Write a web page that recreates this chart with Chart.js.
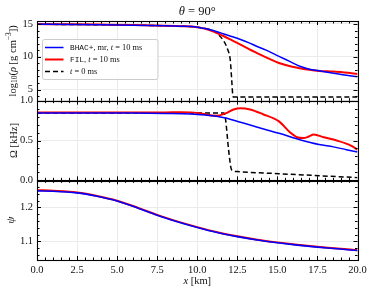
<!DOCTYPE html>
<html>
<head>
<meta charset="utf-8">
<script src="https://cdn.jsdelivr.net/npm/chart.js@4/dist/chart.umd.min.js"></script>
<style>
html,body{margin:0;padding:0;background:#fff;}
#wrap{width:374px;height:294px;position:relative;}
</style>
</head>
<body>
<div id="wrap"><canvas id="c" width="374" height="294"></canvas></div>
<script>
// ---------- data ----------
const xRhoBlue = [0, 2, 4, 6, 8, 9, 9.6, 10, 10.5, 11, 11.5, 12, 12.7, 13.2, 13.7, 14.3, 15.1, 15.8, 16.4, 17, 17.6, 18.5, 19.2, 20];
const rhoBlue  = [14.95, 14.92, 14.88, 14.82, 14.72, 14.65, 14.6, 14.5, 14.3, 14.0, 13.6, 13.2, 12.63, 12.15, 11.6, 11.0, 10.05, 9.25, 8.55, 8.1, 7.85, 7.47, 7.2, 6.95];
const xRhoRed  = [0, 2, 4, 6, 8, 9, 9.6, 10, 10.5, 11.1, 11.6, 12.1, 12.7, 13.2, 13.7, 14.4, 15.1, 15.8, 16.4, 17, 17.6, 18.5, 19.2, 20];
const rhoRed   = [14.98, 14.95, 14.9, 14.84, 14.74, 14.66, 14.61, 14.5, 14.28, 13.76, 13.2, 12.6, 11.86, 11.2, 10.6, 9.8, 9.05, 8.55, 8.25, 8.0, 7.83, 7.73, 7.58, 7.37];
const xRhoInit = [0, 2, 4, 6, 8, 9, 9.6, 10, 10.5, 11.0, 11.3, 11.65, 11.9, 12.06, 12.15, 12.21, 12.25, 14, 16, 18, 20];
const rhoInit  = [14.95, 14.92, 14.88, 14.82, 14.72, 14.65, 14.6, 14.5, 14.3, 13.95, 13.4, 12.4, 11.1, 9.5, 6.5, 4.3, 3.85, 3.85, 3.85, 3.85, 3.85];

const xOmBlue  = [0, 2, 4, 6, 8, 9.6, 10.5, 11.2, 11.7, 12.7, 13.7, 15.1, 16.4, 17.6, 18.5, 19.3, 20];
const omBlue   = [0.846, 0.845, 0.845, 0.844, 0.84, 0.833, 0.82, 0.805, 0.785, 0.73, 0.67, 0.59, 0.51, 0.45, 0.42, 0.385, 0.355];
const xOmRed   = [0, 2, 4, 6, 8, 9, 9.6, 10.3, 11.2, 11.75, 12.27, 12.7, 13.3, 14.1, 15.1, 15.8, 16.23, 16.64, 16.96, 17.27, 17.9, 18.7, 19.56, 20];
const omRed    = [0.85, 0.85, 0.851, 0.852, 0.853, 0.856, 0.853, 0.835, 0.81, 0.84, 0.89, 0.905, 0.89, 0.83, 0.74, 0.60, 0.54, 0.53, 0.55, 0.575, 0.54, 0.50, 0.44, 0.385];
const xOmInit  = [0, 4, 8, 11.65, 11.75, 11.96, 12.1, 12.17, 12.5, 15.1, 17.6, 20];
const omInit   = [0.845, 0.845, 0.845, 0.845, 0.79, 0.375, 0.16, 0.125, 0.11, 0.083, 0.058, 0.034];

const xPsi     = [0, 1, 2.5, 3.75, 5, 6.25, 7.5, 8.75, 10, 11.25, 12.5, 13.75, 15, 16.25, 17.5, 18.75, 20];
const psiBlue  = [1.249, 1.248, 1.243, 1.233, 1.219, 1.199, 1.177, 1.158, 1.141, 1.126, 1.114, 1.104, 1.096, 1.089, 1.083, 1.078, 1.073];
const psiRed   = [1.251, 1.249, 1.244, 1.234, 1.220, 1.200, 1.178, 1.159, 1.142, 1.127, 1.115, 1.105, 1.097, 1.090, 1.084, 1.079, 1.074];

const xTicks   = [0, 2.5, 5, 7.5, 10, 12.5, 15, 17.5, 20];
const rhoTicks = [5, 10, 15];
const omTicks  = [0, 0.5, 1.0];
const psiTicks = [1.1, 1.2];

const legendLabels = ['BHAC+, mr, t = 10 ms', 'FIL, t = 10 ms', 't = 0 ms'];

// ---------- helpers ----------
const pts = (xs, ys) => xs.map((x, i) => ({x: x, y: ys[i]}));
const BLUE = '#0000ff', RED = '#ff0000', BLACK = '#000000';
const SERIF = '"Liberation Serif", "DejaVu Serif", serif';
const MONO = '"Liberation Mono", "DejaVu Sans Mono", monospace';

function ds(label, data, color, axis, width, dash) {
  return {label: label, data: data, borderColor: color, backgroundColor: color,
    borderWidth: width, borderDash: dash || [], pointRadius: 0, fill: false,
    cubicInterpolationMode: 'monotone', yAxisID: axis};
}

function drawRich(ctx, segs, cx, cy, rot) {
  ctx.save();
  ctx.translate(cx, cy);
  if (rot) ctx.rotate(rot);
  ctx.textBaseline = 'middle';
  ctx.textAlign = 'left';
  let total = 0;
  segs.forEach(s => { ctx.font = s.f; s.w = ctx.measureText(s.t).width; total += s.w; });
  let x = -total / 2;
  segs.forEach(s => {
    ctx.font = s.f; ctx.fillStyle = '#111';
    ctx.fillText(s.t, x, s.dy || 0);
    x += s.w;
  });
  ctx.restore();
}

const panelDefs = {
  yR: {major: rhoTicks, minorStep: 1, minorFrom: 4},
  yO: {major: omTicks, minorStep: 0.1, minorFrom: 0},
  yP: {major: psiTicks, minorStep: 0.02, minorFrom: 1.04}
};

const decor = {
  id: 'decor',
  afterDraw(chart) {
    const ctx = chart.ctx;
    const xs = chart.scales.x;
    const L = chart.chartArea.left, R = chart.chartArea.right;
    ctx.save();
    ctx.strokeStyle = '#000';
    ctx.lineWidth = 1;
    ['yR', 'yO', 'yP'].forEach(id => {
      const s = chart.scales[id];
      const T = s.top, B = s.bottom;
      const def = panelDefs[id];
      ctx.beginPath();
      for (let v = 0; v <= 20.0001; v += 0.5) {
        const px = Math.round(xs.getPixelForValue(v)) + 0.5;
        const major = Math.abs(v / 2.5 - Math.round(v / 2.5)) < 1e-6;
        const len = major ? 4 : 2.5;
        ctx.moveTo(px, B); ctx.lineTo(px, B - len);
        ctx.moveTo(px, T); ctx.lineTo(px, T + len);
      }
      for (let v = def.minorFrom; v <= s.max + 1e-9; v += def.minorStep) {
        if (v < s.min - 1e-9) continue;
        const py = Math.round(s.getPixelForValue(v)) + 0.5;
        const major = def.major.some(m => Math.abs(m - v) < 1e-6);
        const len = major ? 4 : 2.5;
        ctx.moveTo(L, py); ctx.lineTo(L + len, py);
        ctx.moveTo(R, py); ctx.lineTo(R - len, py);
      }
      ctx.stroke();
      ctx.lineWidth = 1.1;
      ctx.strokeRect(Math.round(L) + 0.5, Math.round(T) + 0.5, Math.round(R - L), Math.round(B - T));
      ctx.lineWidth = 1;
    });
    ctx.restore();

    // legend
    const sR = chart.scales.yR;
    const bx = 42, by = sR.top + 18, bw = 115.5, bh = 40;
    ctx.save();
    ctx.fillStyle = 'rgba(255,255,255,0.85)';
    ctx.strokeStyle = '#cccccc';
    ctx.lineWidth = 1;
    ctx.beginPath();
    if (ctx.roundRect) ctx.roundRect(bx + 0.5, by + 0.5, bw, bh, 2); else ctx.rect(bx + 0.5, by + 0.5, bw, bh);
    ctx.fill(); ctx.stroke();
    const rows = [
      {c: BLUE, dash: [], w: 1.5, segs: [{t: 'BHAC+', f: '7.8px ' + MONO}, {t: ', mr, ', f: '8.4px ' + SERIF}, {t: 't', f: 'italic 8.4px ' + SERIF}, {t: ' = 10 ms', f: '8.4px ' + SERIF}]},
      {c: RED, dash: [], w: 2, segs: [{t: 'FIL', f: '7.8px ' + MONO}, {t: ', ', f: '8.4px ' + SERIF}, {t: 't', f: 'italic 8.4px ' + SERIF}, {t: ' = 10 ms', f: '8.4px ' + SERIF}]},
      {c: BLACK, dash: [5, 3], w: 1.5, segs: [{t: 't', f: 'italic 8.4px ' + SERIF}, {t: ' = 0 ms', f: '8.4px ' + SERIF}]}
    ];
    rows.forEach((r, i) => {
      const y = by + 8.5 + i * 12;
      ctx.strokeStyle = r.c; ctx.lineWidth = r.w; ctx.setLineDash(r.dash);
      ctx.beginPath(); ctx.moveTo(45, y); ctx.lineTo(63.5, y); ctx.stroke();
      ctx.setLineDash([]);
      ctx.textBaseline = 'middle'; ctx.textAlign = 'left'; ctx.fillStyle = '#111';
      let x = 70;
      r.segs.forEach(s => { ctx.font = s.f; ctx.fillText(s.t, x, y); x += ctx.measureText(s.t).width; });
    });
    ctx.restore();

    // titles
    drawRich(ctx, [{t: 'θ', f: 'italic 12.5px ' + SERIF}, {t: ' = 90°', f: '12.5px ' + SERIF}], (L + R) / 2, 11.5);
    drawRich(ctx, [{t: 'x', f: 'italic 10.5px ' + SERIF}, {t: ' [km]', f: '10.5px ' + SERIF}], (L + R) / 2, 281);
    const sO = chart.scales.yO, sP = chart.scales.yP;
    drawRich(ctx, [{t: 'log', f: '10.5px ' + SERIF}, {t: '10', f: '7.5px ' + SERIF, dy: 2.5}, {t: '(', f: '10.5px ' + SERIF},
      {t: 'ρ', f: 'italic 10.5px ' + SERIF}, {t: ' [g cm', f: '10.5px ' + SERIF}, {t: '−3', f: '7.5px ' + SERIF, dy: -3.5},
      {t: '])', f: '10.5px ' + SERIF}], 13, (sR.top + sR.bottom) / 2, -Math.PI / 2);
    drawRich(ctx, [{t: 'Ω [kHz]', f: '10.5px ' + SERIF}], 14, (sO.top + sO.bottom) / 2, -Math.PI / 2);
    drawRich(ctx, [{t: 'ψ', f: 'italic 11px ' + SERIF}], 11, (sP.top + sP.bottom) / 2, -Math.PI / 2);
  }
};

function yScale(min, max, ticks, fmt) {
  return {
    type: 'linear', position: 'left', stack: 'panels', stackWeight: 1,
    min: min, max: max,
    afterBuildTicks: s => { s.ticks = ticks.map(v => ({value: v})); },
    afterFit: s => { s.width = 37; },
    ticks: {padding: 4, color: '#111', font: {family: SERIF, size: 10.5}, callback: fmt},
    grid: {color: '#ebebeb', lineWidth: 1, drawTicks: false},
    border: {display: false}
  };
}

new Chart(document.getElementById('c'), {
  type: 'line',
  data: {
    datasets: [
      ds(legendLabels[0], pts(xRhoBlue, rhoBlue), BLUE, 'yR', 1.5),
      ds(legendLabels[1], pts(xRhoRed, rhoRed), RED, 'yR', 2),
      ds(legendLabels[2], pts(xRhoInit, rhoInit), BLACK, 'yR', 1.5, [5, 3]),
      ds(legendLabels[0], pts(xOmBlue, omBlue), BLUE, 'yO', 1.5),
      ds(legendLabels[1], pts(xOmRed, omRed), RED, 'yO', 2),
      ds(legendLabels[2], pts(xOmInit, omInit), BLACK, 'yO', 1.5, [5, 3]),
      ds(legendLabels[0], pts(xPsi, psiBlue), BLUE, 'yP', 1.6),
      ds(legendLabels[1], pts(xPsi, psiRed), RED, 'yP', 2)
    ]
  },
  options: {
    responsive: false, animation: false, devicePixelRatio: 1,
    layout: {padding: {left: 0, right: 16.5, top: 21, bottom: 0}},
    plugins: {legend: {display: false}, title: {display: false}, tooltip: {enabled: false}},
    scales: {
      x: {
        type: 'linear', min: 0, max: 20,
        afterBuildTicks: s => { s.ticks = xTicks.map(v => ({value: v})); },
        afterFit: s => { s.height = 34; },
        ticks: {padding: 4, color: '#111', maxRotation: 0, font: {family: SERIF, size: 10.5}, callback: v => v.toFixed(1)},
        grid: {color: '#ebebeb', lineWidth: 1, drawTicks: false},
        border: {display: false}
      },
      yP: yScale(1.045, 1.28, psiTicks, v => v.toFixed(1)),
      yO: yScale(0, 1.0, omTicks, v => v.toFixed(1)),
      yR: yScale(3.3, 15.45, rhoTicks, v => String(v))
    }
  },
  plugins: [decor]
});
</script>
</body>
</html>
